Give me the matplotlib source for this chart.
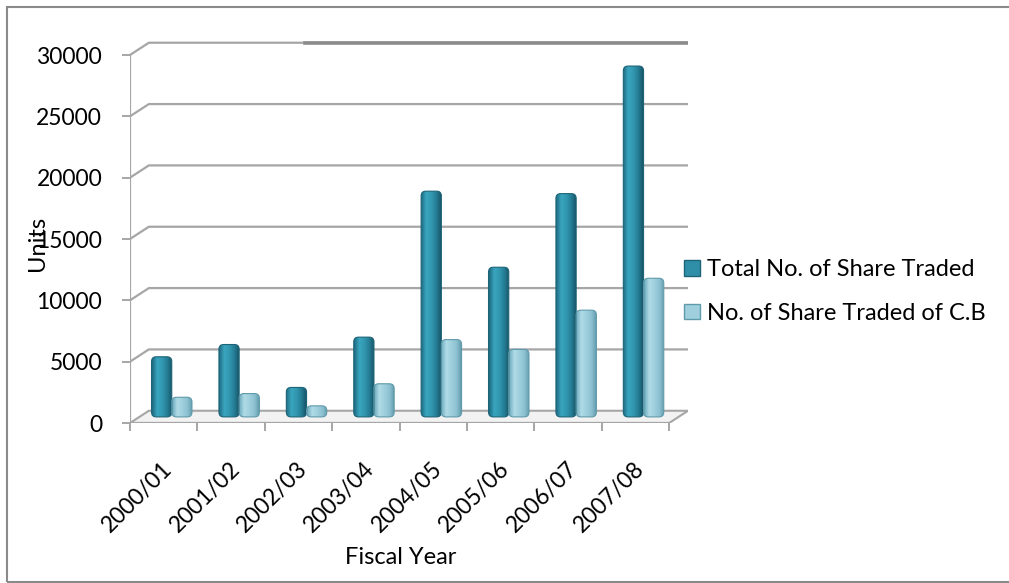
import numpy as np
import matplotlib
matplotlib.use('Agg')
from matplotlib import pyplot as plt
from matplotlib.patches import Polygon, Rectangle, Patch, FancyBboxPatch
from matplotlib.colors import LinearSegmentedColormap

plt.rcParams['font.family'] = ['Lato', 'DejaVu Sans']

# data
years = ['2000/01', '2001/02', '2002/03', '2003/04', '2004/05', '2005/06', '2006/07', '2007/08']
total_shares = [4900, 5900, 2400, 6500, 18400, 12200, 18200, 28600]
cb_shares = [1600, 1900, 900, 2700, 6300, 5500, 8700, 11300]
series_names = ['Total No. of Share Traded', 'No. of Share Traded of C.B']
y_ticks = [0, 5000, 10000, 15000, 20000, 25000, 30000]

# fake 3d depth (in data units)
dx = 0.28
dy = 1000
grid_col = '#a6a6a6'

fig = plt.figure(figsize=(10.09, 5.83), dpi=100)
ax = fig.add_axes([0.1288, 0.2744, 0.5531, 0.6565])
ax.set_xlim(0, len(years) + dx)
ax.set_ylim(0, 31200)
for s in ax.spines.values():
    s.set_visible(False)

# floor
floor = Polygon([(0, 0), (len(years), 0), (len(years) + dx, dy), (dx, dy)],
                closed=True, facecolor='#f2f2f2', edgecolor=grid_col, lw=1.5, zorder=1)
ax.add_patch(floor)

# wall gridlines
for v in y_ticks[1:]:
    ax.plot([0, dx, len(years) + dx], [v, v + dy, v + dy], color=grid_col, lw=1.6, zorder=1)
ax.plot([2.6, len(years) + dx], [30000 + dy, 30000 + dy], color='#8c8c8c', lw=2.6, zorder=1)

# axis lines
ax.plot([0, 0], [0, 30000], color=grid_col, lw=1.6, zorder=2)
ax.plot([0, len(years)], [0, 0], color=grid_col, lw=1.6, zorder=2)

ax.set_yticks(y_ticks)
ax.set_yticklabels([str(v) for v in y_ticks])
ax.set_xticks(np.arange(len(years) + 1))
ax.set_xticklabels([])
ax.set_xticks(np.arange(len(years)) + 0.47, minor=True)
ax.set_xticklabels(years, minor=True, rotation=45, ha='right', va='top', rotation_mode='anchor')
ax.tick_params(axis='both', which='major', direction='out', length=6, width=1.4, color=grid_col,
               labelsize=16.5, pad=14)
ax.tick_params(axis='x', which='minor', length=0, labelsize=16.5, pad=25)

dark_cm = LinearSegmentedColormap.from_list('dk', ['#1d6a80', '#3aa6bf', '#3297b0', '#247b93', '#174f60'])
light_cm = LinearSegmentedColormap.from_list('lt', ['#6aa9bb', '#b0dbe7', '#9fcfdd', '#8cc1d1', '#5f98a8'])
grad = np.linspace(0, 1, 64).reshape(1, -1)

xs = np.arange(len(years))
bw = 0.3
base = dy / 2
aspect = (31200 / 382.7) * (539.0 / len(years))


def draw_bars(xpos, vals, cmap, edge):
    bars = ax.bar(xpos, vals, width=bw, bottom=base, color='none', edgecolor='none', zorder=3)
    for p in bars:
        x0, y0, w, h = p.get_x(), p.get_y(), p.get_width(), p.get_height()
        box = FancyBboxPatch((x0, y0), w, h, boxstyle='round,pad=0,rounding_size=0.07',
                             mutation_aspect=aspect, facecolor='none', edgecolor=edge,
                             lw=0.8, zorder=4)
        ax.add_patch(box)
        im = ax.imshow(grad, cmap=cmap, extent=[x0, x0 + w, y0, y0 + h], aspect='auto',
                       zorder=3.5, interpolation='bilinear')
        im.set_clip_path(box)


# draw category by category so the light bar sits over the dark one
for i in range(len(years)):
    draw_bars([xs[i] + 0.47], [total_shares[i]], dark_cm, '#1d6478')
    draw_bars([xs[i] + 0.77], [cb_shares[i]], light_cm, '#5f9aab')

ax.set_xlim(0, len(years) + dx)
ax.set_ylim(0, 31200)

handles = [Patch(facecolor='#2f8fa8', edgecolor='#1d6478'),
           Patch(facecolor='#9fcfdd', edgecolor='#5f9aab')]
fig.legend(handles, series_names, loc='center left', bbox_to_anchor=(0.657, 0.5),
           frameon=False, fontsize=17, handlelength=0.65, handleheight=0.65,
           handletextpad=0.3, labelspacing=0.95)

fig.text(37 / 1009, 1 - 243 / 583, 'Units', rotation=90, ha='center', va='center', fontsize=17)
fig.text(401 / 1009, 1 - 558 / 583, 'Fiscal Year', ha='center', va='center', fontsize=17)

fig.add_artist(Rectangle((7 / 1009, 1.5 / 583), 1005 / 1009, 575 / 583, transform=fig.transFigure,
                         fill=False, edgecolor='#8a8a8a', lw=1.5))

fig.savefig('out.png', dpi=100)
